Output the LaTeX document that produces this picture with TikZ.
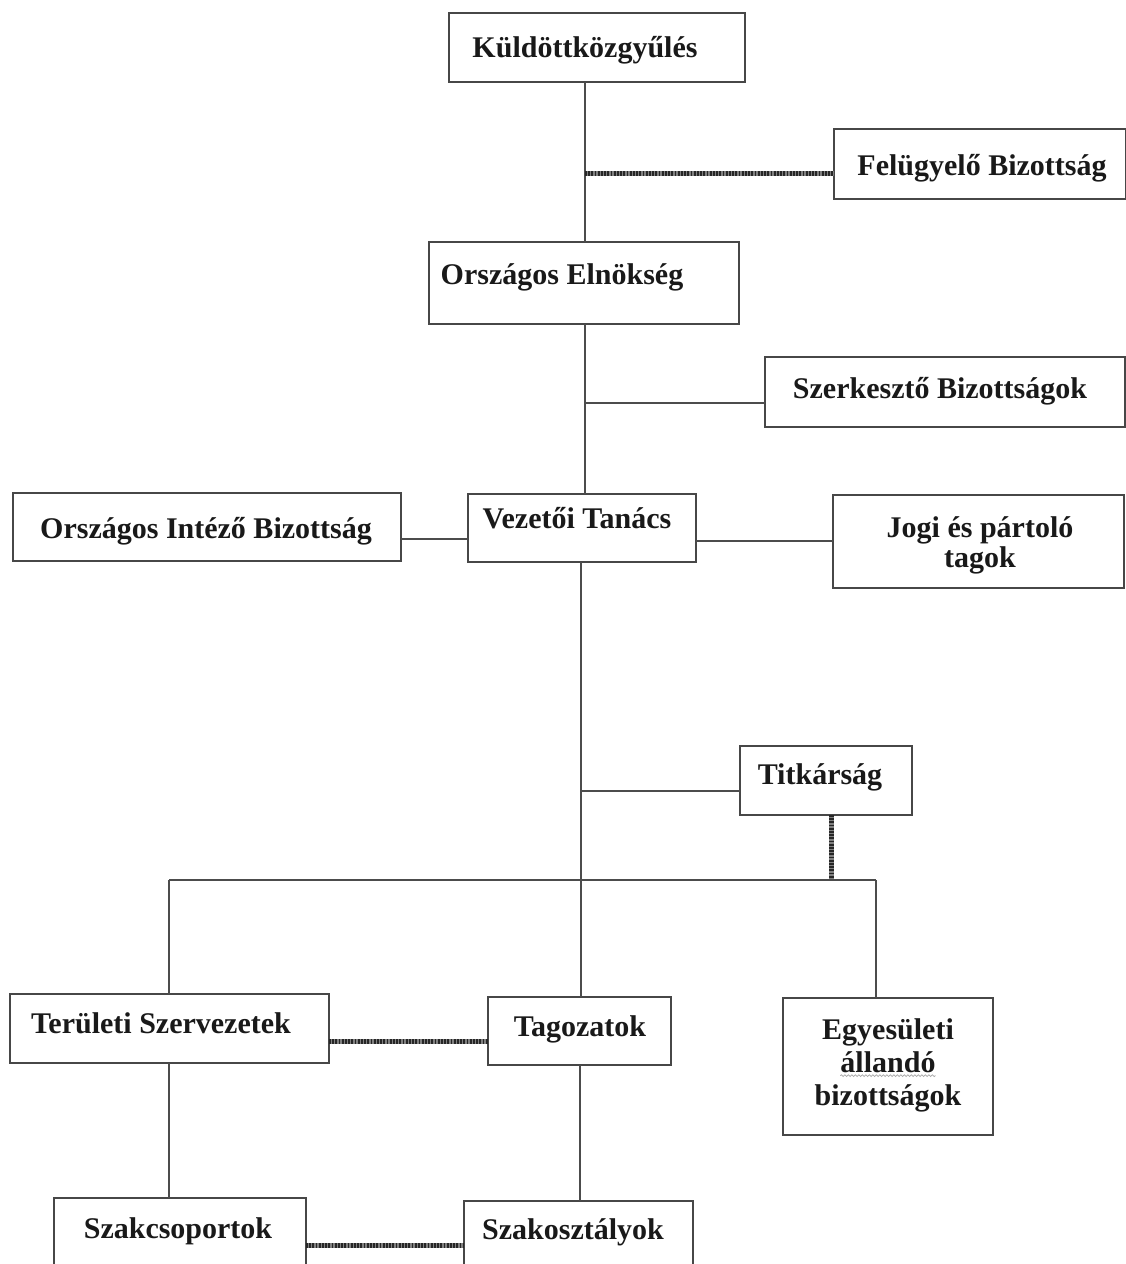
\documentclass[tikz,border=0pt]{standalone}
\usepackage{fontspec}
\setmainfont{Liberation Serif}
\usetikzlibrary{decorations.pathmorphing}
\begin{document}
\begin{tikzpicture}[x=1pt,y=-1pt,
  box/.style={draw=black!72, line width=2.2pt, inner sep=0pt, outer sep=0pt, anchor=north west},
  txt/.style={font=\bfseries\fontsize{30}{34}\selectfont, inner sep=0pt, text height=20pt, text depth=0pt, anchor=center, text=black!90},
  conn/.style={draw=black!70, line width=1.8pt},
  hatch/.style={draw=black!50, line width=5pt, postaction={draw=black!85, line width=5pt, dash pattern=on 1.8pt off 1.4pt}}
]
\clip (0,0) rectangle (1126,1264);
\fill[white] (0,0) rectangle (1126,1264);

% boxes
\node[box, minimum width=296, minimum height=69] (kgy) at (449,13) {};
\node[box, minimum width=292, minimum height=70] (felu) at (834,129) {};
\node[box, minimum width=310, minimum height=82] (elnok) at (429,242) {};
\node[box, minimum width=360, minimum height=70] (szerk) at (765,357) {};
\node[box, minimum width=388, minimum height=68] (oib) at (13,493) {};
\node[box, minimum width=228, minimum height=68] (vez) at (468,494) {};
\node[box, minimum width=291, minimum height=93] (jogi) at (833,495) {};
\node[box, minimum width=172, minimum height=69] (titk) at (740,746) {};
\node[box, minimum width=319, minimum height=69] (ter) at (10,994) {};
\node[box, minimum width=183, minimum height=68] (tag) at (488,997) {};
\node[box, minimum width=210, minimum height=137] (egy) at (783,998) {};
\node[box, minimum width=252, minimum height=100] (szcs) at (54,1198) {};
\node[box, minimum width=229, minimum height=100] (szko) at (464,1201) {};

% texts
\node[txt] (kgyT) at (585,47) {Küldöttközgyűlés};
\node[txt] (feluT) at (982,165) {Felügyelő Bizottság};
\node[txt] (elnokT) at (562,274) {Országos Elnökség};
\node[txt] (szerkT) at (940,388) {Szerkesztő Bizottságok};
\node[txt] (oibT) at (206,528) {Országos Intéző Bizottság};
\node[txt] (vezT) at (577,518) {Vezetői Tanács};
\node[txt] (jogiT1) at (980,527) {Jogi és pártoló};
\node[txt] (jogiT2) at (980,557) {tagok};
\node[txt] (titkT) at (820,774) {Titkárság};
\node[txt] (terT) at (161,1023) {Területi Szervezetek};
\node[txt] (tagT) at (580,1026) {Tagozatok};
\node[txt] (egyT1) at (888,1029) {Egyesületi};
\node[txt] (egyT2) at (888,1062) {állandó};
\node[txt] (egyT3) at (888,1095) {bizottságok};
\draw[gray!70, line width=0.7pt, decorate, decoration={snake, segment length=3.5pt, amplitude=0.9pt}]
  ([yshift=-3.5pt]egyT2.south west) -- ([yshift=-3.5pt]egyT2.south east);
\node[txt] (szcsT) at (178,1228) {Szakcsoportok};
\node[txt] (szkoT) at (573,1229) {Szakosztályok};

% spine coordinates
\coordinate (sx) at (585,0);
\coordinate (sl) at (581,0);
\coordinate (bus) at (0,880);

% main spine
\draw[conn] (kgy.south -| sx) -- (elnok.north -| sx);
\draw[conn] (elnok.south -| sx) -- (vez.north -| sx);
\draw[conn] (vez.south -| sl) -- (tag.north -| sl);

% side branches
\coordinate (feluJ) at (834,173);
\draw[hatch] (feluJ -| sx) -- (feluJ);
\coordinate (szerkJ) at (765,403);
\draw[conn] (szerkJ -| sx) -- (szerkJ);
\draw[conn] (oib.east |- 0,539) -- (vez.west |- 0,539);
\draw[conn] (vez.east |- 0,541) -- (jogi.west |- 0,541);
\coordinate (titkJ) at (740,791);
\draw[conn] (titkJ -| sl) -- (titkJ);

% Titkarsag to bus
\coordinate (titkD) at (831,0);
\draw[hatch] (titk.south -| titkD) -- (bus -| titkD);

% bus
\coordinate (busL) at (169,880);
\coordinate (busR) at (876,880);
\draw[conn] (busL) -- (busR);
\draw[conn] (busL) -- (ter.north -| busL);
\draw[conn] (busR) -- (egy.north -| busR);

% lower level
\coordinate (terJ) at (0,1041);
\draw[hatch] (ter.east |- terJ) -- (tag.west |- terJ);
\draw[conn] (ter.south -| busL) -- (szcs.north -| busL);
\coordinate (tagX) at (580,0);
\draw[conn] (tag.south -| tagX) -- (szko.north -| tagX);
\coordinate (szJ) at (0,1245);
\draw[hatch] (szcs.east |- szJ) -- (szko.west |- szJ);
\end{tikzpicture}
\end{document}
